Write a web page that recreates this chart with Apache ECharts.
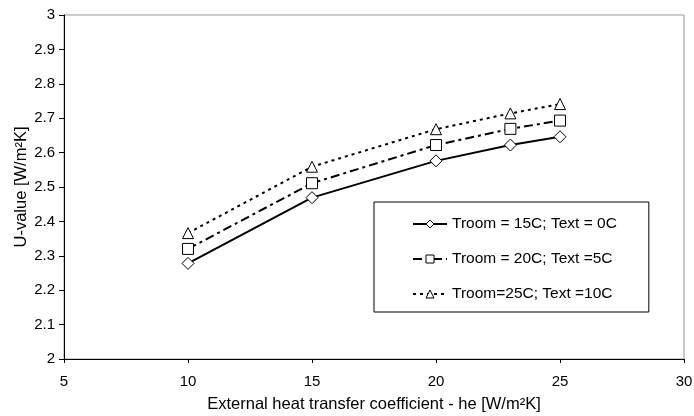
<!DOCTYPE html>
<html>
<head>
<meta charset="utf-8">
<script src="https://cdn.jsdelivr.net/npm/echarts@6/dist/echarts.min.js"></script>
<style>
    html, body { margin: 0; padding: 0; background: #fff; }
    #main { width: 694px; height: 416px; }
</style>
</head>
<body>
<div id="main"></div>
<script>
// heat transfer coefficient he [W/m2K]
var heValues = [10, 15, 20, 23, 25];
// U-value per room / outside temperature case
var uRoom15 = [2.278, 2.469, 2.576, 2.622, 2.646];
var uRoom20 = [2.320, 2.511, 2.622, 2.669, 2.693];
var uRoom25 = [2.366, 2.559, 2.668, 2.714, 2.741];
var seriesNames = ['Troom = 15C; Text = 0C', 'Troom = 20C; Text =5C', 'Troom=25C; Text =10C'];

function pairs(xs, ys) {
    return xs.map(function (x, i) { return [x, ys[i]]; });
}

var chartDom = document.getElementById('main');
var myChart = echarts.init(chartDom);
var option;

var font = 'Liberation Sans, Arial, sans-serif';

function makeSeries(name, ys, symbol, size, lineType) {
    return {
        name: name,
        type: 'line',
        data: pairs(heValues, ys),
        symbol: symbol,
        symbolSize: size,
        showAllSymbol: true,
        lineStyle: { color: '#000', width: 2, type: lineType },
        itemStyle: { color: '#fff', borderColor: '#000', borderWidth: 1 },
        z: 3
    };
}

option = {
    animation: false,
    backgroundColor: '#fff',
    textStyle: { fontFamily: font, color: '#000' },
    grid: {
        left: 64, right: 10, top: 15, bottom: 57,
        outerBoundsMode: 'none',
        containLabel: false,
        show: true,
        borderColor: '#999',
        borderWidth: 1
    },
    xAxis: {
        type: 'value',
        min: 5,
        max: 30,
        interval: 5,
        name: 'External heat transfer coefficient - he [W/m\u00b2K]',
        nameLocation: 'middle',
        nameGap: 37,
        nameMoveOverlap: false,
        nameTextStyle: { fontSize: 16.5, color: '#000' },
        axisLine: { show: true, lineStyle: { color: '#000', width: 1 } },
        axisTick: { show: true, length: 4, lineStyle: { color: '#000' } },
        axisLabel: { fontSize: 15, color: '#000', margin: 15 },
        splitLine: { show: false }
    },
    yAxis: {
        type: 'value',
        min: 2,
        max: 3,
        interval: 0.1,
        name: 'U-value [W/m\u00b2K]',
        nameLocation: 'middle',
        nameGap: 34,
        nameMoveOverlap: false,
        nameTextStyle: { fontSize: 16.5, color: '#000' },
        axisLine: { show: true, lineStyle: { color: '#000', width: 1 } },
        axisTick: { show: true, length: 5, lineStyle: { color: '#000' } },
        axisLabel: { fontSize: 15, color: '#000', margin: 9 },
        splitLine: { show: false }
    },
    legend: {
        orient: 'vertical',
        left: 374,
        top: 202,
        data: seriesNames,
        itemWidth: 34,
        itemHeight: 10,
        itemGap: 19,
        padding: [14, 32, 10, 38],
        backgroundColor: '#fff',
        borderColor: '#000',
        borderWidth: 1,
        borderRadius: 0,
        itemStyle: { borderWidth: 1 },
        textStyle: { fontSize: 15.5, color: '#000', lineHeight: 14 }
    },
    series: [
        makeSeries(seriesNames[0], uRoom15, 'diamond', 12, 'solid'),
        makeSeries(seriesNames[1], uRoom20, 'rect', 11, [9, 4, 3, 4]),
        makeSeries(seriesNames[2], uRoom25, 'triangle', 11, [3, 4])
    ]
};

option && myChart.setOption(option);
</script>
</body>
</html>
